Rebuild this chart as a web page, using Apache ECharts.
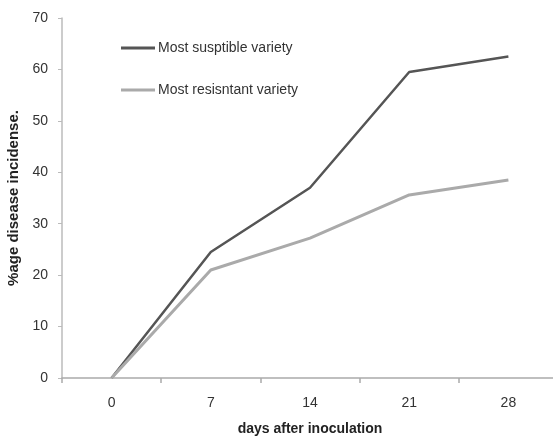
<!DOCTYPE html>
<html><head><meta charset="utf-8">
<script src="https://cdn.jsdelivr.net/npm/echarts@6/dist/echarts.min.js"></script>
<style>html,body{margin:0;padding:0;background:#fff}#c{width:553px;height:437px}</style>
</head><body><div id="c"></div>
<script>
var days = ['0','7','14','21','28'];
var susceptible = [0, 24.5, 37, 59.5, 62.5];
var resistant = [0, 21, 27.2, 35.6, 38.5];
var yTicks = [0, 10, 20, 30, 40, 50, 60, 70];

var font = 'Liberation Sans';
var chart = echarts.init(document.getElementById('c'));
chart.setOption({
  animation: false,
  backgroundColor: '#fff',
  textStyle: {fontFamily: font},
  grid: {left: 62, width: 496, top: 18, bottom: 59, containLabel: false, outerBoundsMode: 'none'},
  legend: {
    orient: 'vertical', left: 121, top: 41, padding: 0, itemWidth: 34, itemHeight: 3, itemGap: 28,
    icon: 'rect',
    textStyle: {fontFamily: font, fontSize: 14, color: '#333', padding: [0,0,0,-2]},
    data: ['Most susptible variety', 'Most resisntant variety']
  },
  xAxis: {
    type: 'category', data: days, boundaryGap: true,
    name: 'days after inoculation', nameLocation: 'middle', nameGap: 44,
    nameTextStyle: {fontFamily: font, fontSize: 14, fontWeight: 'bold', color: '#222'},
    axisLine: {lineStyle: {color: '#aaa', width: 1.5}},
    axisTick: {show: true, length: 5, lineStyle: {color: '#aaa', width: 1.5}},
    axisLabel: {fontFamily: font, fontSize: 14, color: '#333', margin: 18},
    splitLine: {show: false}
  },
  yAxis: {
    type: 'value', min: 0, max: 70, interval: 10,
    name: '%age disease incidense.', nameLocation: 'middle', nameGap: 36, nameRotate: 90,
    nameTextStyle: {fontFamily: font, fontSize: 15, fontWeight: 'bold', color: '#222'},
    axisLine: {show: true, lineStyle: {color: '#bbb', width: 1.5}},
    axisTick: {show: true, length: 4, lineStyle: {color: '#bbb'}},
    axisLabel: {fontFamily: font, fontSize: 14, color: '#333', margin: 14,
      formatter: function(v){ return yTicks.indexOf(v) >= 0 ? String(v) : ''; }},
    splitLine: {show: false}
  },
  series: [
    {name: 'Most susptible variety', type: 'line', data: susceptible, showSymbol: false,
     lineStyle: {color: '#555', width: 2.5}, itemStyle: {color: '#555'}},
    {name: 'Most resisntant variety', type: 'line', data: resistant, showSymbol: false,
     lineStyle: {color: '#aaa', width: 3}, itemStyle: {color: '#aaa'}}
  ]
});
</script></body></html>
